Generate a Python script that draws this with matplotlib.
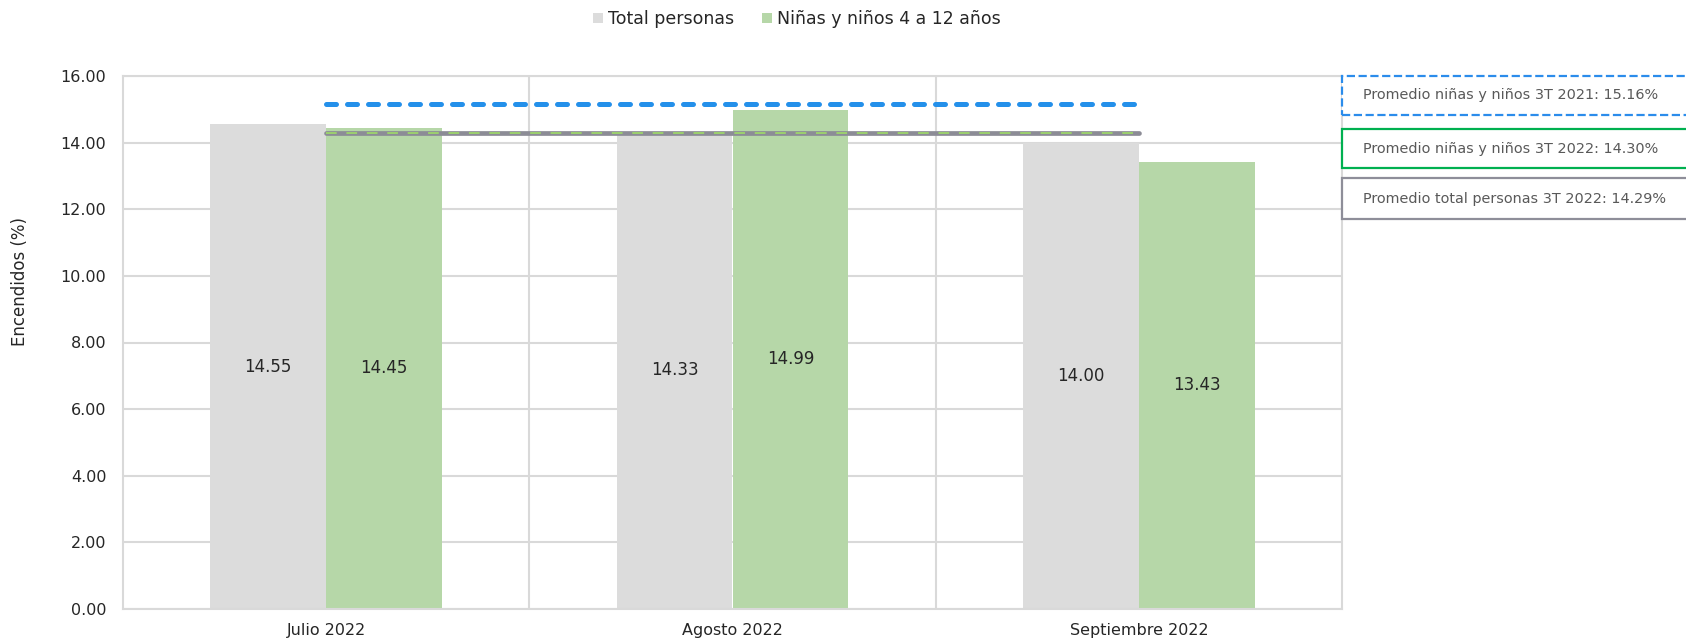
import matplotlib
matplotlib.use("Agg")
import matplotlib.pyplot as plt
from matplotlib.patches import Patch, Rectangle
from matplotlib.ticker import FormatStrFormatter

# ---- data ----
categories = ["Julio 2022", "Agosto 2022", "Septiembre 2022"]
total_personas = [14.55, 14.33, 14.00]
ninos_4_12 = [14.45, 14.99, 13.43]
series_names = ["Total personas", "Niñas y niños 4 a 12 años"]
avg_ninos_2021 = 15.16
avg_ninos_2022 = 14.30
avg_total_2022 = 14.29
box_labels = [
    "Promedio niñas y niños 3T 2021: 15.16%",
    "Promedio niñas y niños 3T 2022: 14.30%",
    "Promedio total personas 3T 2022: 14.29%",
]

W, H = 1686, 642
fig = plt.figure(figsize=(W / 100, H / 100), dpi=100)
fig.patch.set_facecolor("white")
plt.rcParams["font.family"] = ["DejaVu Sans"]

ax = fig.add_axes([123 / W, 1 - 609 / H, (1342 - 123) / W, (609 - 76) / H])

grey_bar = "#DCDCDC"
green_bar = "#B6D7A8"
grid_c = "#D9D9D9"
txt_c = "#262626"

x = list(range(len(categories)))
bw = 0.285
ax.bar([i - bw / 2 for i in x], total_personas, width=bw, color=grey_bar, zorder=2)
ax.bar([i + bw / 2 for i in x], ninos_4_12, width=bw, color=green_bar, zorder=2)

for i in x:
    ax.text(i - bw / 2, total_personas[i] / 2, f"{total_personas[i]:.2f}",
            ha="center", va="center", fontsize=12, color=txt_c, zorder=5)
    ax.text(i + bw / 2, ninos_4_12[i] / 2, f"{ninos_4_12[i]:.2f}",
            ha="center", va="center", fontsize=12, color=txt_c, zorder=5)

# average lines
ax.plot([0, 2], [avg_ninos_2021] * 2, color="#2490EA", lw=3.6, linestyle=(0, (2, 2.2)),
        dash_capstyle="round", zorder=4)
ax.plot([0, 2], [avg_total_2022] * 2, color="#8C8C96", lw=3.4, solid_capstyle="round", zorder=4)
ax.plot([0, 2], [avg_ninos_2022] * 2, color="#9CD06E", lw=1.4, linestyle=(0, (5.5, 5)), zorder=5)

ax.set_xlim(-0.5, 2.5)
ax.set_ylim(0, 16)
ax.set_yticks(range(0, 17, 2))
ax.yaxis.set_major_formatter(FormatStrFormatter("%.2f"))
ax.set_xticks(x)
ax.set_xticklabels(categories)
ax.set_xticks([0.5, 1.5], minor=True)
ax.tick_params(axis="both", which="both", length=0, labelsize=11.5, colors=txt_c)
ax.tick_params(axis="y", pad=12)
ax.tick_params(axis="x", pad=10)
ax.grid(axis="y", color=grid_c, lw=1.5, zorder=0)
ax.grid(axis="x", which="minor", color=grid_c, lw=1.5, zorder=0)
for s in ax.spines.values():
    s.set_color(grid_c)
    s.set_linewidth(1.5)

fig.text(20 / W, 1 - 281 / H, "Encendidos (%)", rotation=90, ha="center", va="center",
         fontsize=12, color=txt_c)

# legend
handles = [Patch(facecolor=grey_bar, edgecolor="none"), Patch(facecolor=green_bar, edgecolor="none")]
fig.legend(handles, series_names, loc="center", bbox_to_anchor=(797 / W, 1 - 19 / H),
           ncol=2, frameon=False, fontsize=12.5, handlelength=0.55, handleheight=0.55,
           handletextpad=0.3, columnspacing=1.6, labelcolor=txt_c)

# right boxes
boxes = [(76, 115, "#2B8CEB", "--"), (129, 168, "#00B050", "-"), (178, 219, "#8E8E99", "-")]
for (y0, y1, ec, ls), lab in zip(boxes, box_labels):
    r = Rectangle((1342 / W, 1 - y1 / H), (1700 - 1342) / W, (y1 - y0) / H,
                  transform=fig.transFigure, facecolor="white", edgecolor=ec,
                  lw=1.6, linestyle=ls, clip_on=False)
    fig.add_artist(r)
    fig.text(1363 / W, 1 - (y0 + y1) / 2 / H, lab, ha="left", va="center",
             fontsize=10.4, color="#595959")

fig.savefig("out.png", dpi=100, facecolor="white")
